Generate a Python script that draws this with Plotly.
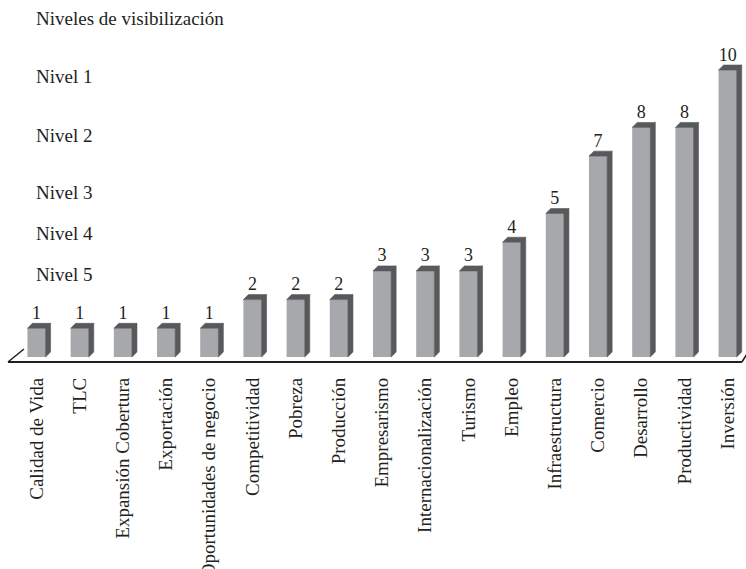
import plotly.graph_objects as go

# Topics and how often each one is made visible
categories = [
    "Calidad de Vida", "TLC", "Expansión Cobertura", "Exportación",
    "Oportunidades de negocio", "Competitividad", "Pobreza", "Producción",
    "Empresarismo", "Internacionalización", "Turismo", "Empleo",
    "Infraestructura", "Comercio", "Desarrollo", "Productividad", "Inversión",
]
values = [1, 1, 1, 1, 1, 2, 2, 2, 3, 3, 3, 4, 5, 7, 8, 8, 10]
level_labels = ["Nivel 1", "Nivel 2", "Nivel 3", "Nivel 4", "Nivel 5"]
title_text = "Niveles de visibilización"

FRONT = "#a7a8ab"
SHADE = "#58595b"
INK = "#231f20"
FONT = "Times New Roman, Liberation Serif, serif"

idx = list(range(len(categories)))
bw = 0.42      # width of the front face (category units)
dx = 0.116     # depth offset along x
dy = 0.174     # depth offset along y

# side and top faces of each column, built from the values
px, py = [], []
for i, v in zip(idx, values):
    x0, x1 = i - bw / 2, i + bw / 2
    px += [x1, x1 + dx, x1 + dx, x1, x1, None]
    py += [0, dy, v + dy, v, 0, None]
    px += [x0, x0 + dx, x1 + dx, x1, x0, None]
    py += [v, v + dy, v + dy, v, v, None]

fig = go.Figure()
fig.add_trace(go.Scatter(
    x=px, y=py, mode="lines", fill="toself", fillcolor=SHADE,
    line=dict(width=0.6, color=SHADE), hoverinfo="skip", showlegend=False,
))
fig.add_trace(go.Bar(
    x=idx, y=values, width=bw, marker=dict(color=FRONT, line=dict(width=0)),
    showlegend=False,
))
fig.add_trace(go.Scatter(
    x=idx, y=[v + dy for v in values],
    mode="text", text=[str(v) for v in values], textposition="top center",
    textfont=dict(family=FONT, size=18, color=INK),
    hoverinfo="skip", showlegend=False,
))

# floor outline
floor_y, floor_top = -0.174, 0.28
fig.add_shape(type="line", x0=-0.66, y0=floor_y, x1=16.33, y1=floor_y,
              line=dict(color=INK, width=2), xref="x", yref="y")
fig.add_shape(type="line", x0=-0.66, y0=floor_y, x1=-0.29, y1=floor_top,
              line=dict(color=INK, width=1.5), xref="x", yref="y")
fig.add_shape(type="line", x0=16.33, y0=floor_y, x1=16.52, y1=floor_top,
              line=dict(color=INK, width=1.5), xref="x", yref="y")

annotations = [dict(
    text=title_text, x=0.0456, xref="paper", xanchor="left",
    y=11.81, yref="y", yanchor="middle", showarrow=False,
    font=dict(family=FONT, size=19, color=INK),
)]
for lab, yv in zip(level_labels, [9.76, 7.73, 5.75, 4.32, 2.86]):
    annotations.append(dict(
        text=lab, x=0.0456, xref="paper", xanchor="left",
        y=yv, yref="y", yanchor="middle", showarrow=False,
        font=dict(family=FONT, size=19, color=INK),
    ))

fig.update_layout(
    width=746, height=569,
    margin=dict(l=0, r=0, t=0, b=196, autoexpand=False),
    paper_bgcolor="white", plot_bgcolor="white",
    xaxis=dict(
        range=[-0.845, 16.425], tickmode="array", tickvals=idx,
        ticktext=categories, tickangle=-90, showgrid=False, zeroline=False,
        showline=False, ticks="", fixedrange=True, automargin=False,
        tickfont=dict(family=FONT, size=19, color=INK),
    ),
    yaxis=dict(
        range=[-0.557, 12.44], showgrid=False, zeroline=False,
        showline=False, showticklabels=False, ticks="", fixedrange=True,
        automargin=False,
    ),
    annotations=annotations,
)

fig.write_html("out.html")
